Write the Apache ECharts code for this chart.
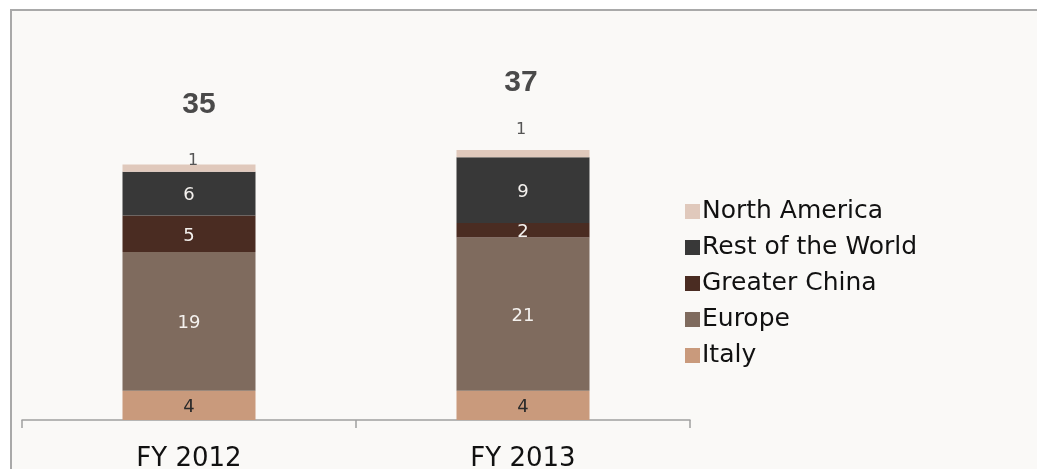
<!DOCTYPE html>
<html>
<head>
<meta charset="utf-8">
<script src="https://cdn.jsdelivr.net/npm/echarts@6/dist/echarts.min.js"></script>
<style>
  html, body { margin: 0; padding: 0; background: #ffffff; }
  #chart { width: 1037px; height: 469px; }
</style>
</head>
<body>
<div id="chart"></div>
<script>
// Revenue split by region, FY 2012 vs FY 2013
const categories = ['FY 2012', 'FY 2013'];
const italy = [4, 4];
const europe = [19, 21];
const greaterChina = [5, 2];
const restOfWorld = [6, 9];
const northAmerica = [1, 1];
const totals = [35, 37];

const legendOrder = ['North America', 'Rest of the World', 'Greater China', 'Europe', 'Italy'];

const chart = echarts.init(document.getElementById('chart'), null, { renderer: 'canvas' });

const segLabel = (color) => ({
  show: true,
  position: 'inside',
  offset: [0, 2],
  color: color,
  fontFamily: 'DejaVu Sans',
  fontSize: 18
});

function barSeries(name, values, color, labelColor) {
  return {
    name: name,
    type: 'bar',
    stack: 'total',
    barWidth: 133,
    data: values,
    itemStyle: { color: color },
    label: segLabel(labelColor),
    emphasis: { disabled: true }
  };
}

// Small top segment: value shown above the bar
const naOffsets = [[4, 4], [-2, -12]];
const totalOffsets = [[10, -44], [-2, -52]];

chart.setOption({
  animation: false,
  backgroundColor: '#ffffff',
  graphic: [{
    type: 'rect',
    z: -10,
    shape: { x: 11, y: 10, width: 1100, height: 600 },
    style: { fill: '#faf9f7', stroke: '#a9a9a9', lineWidth: 2 }
  }],
  grid: { left: 22, right: 347, top: 128, bottom: 49, outerBoundsMode: 'none', containLabel: false },
  legend: {
    orient: 'vertical',
    left: 680,
    top: 194,
    data: legendOrder,
    icon: 'rect',
    itemWidth: 15,
    itemHeight: 15,
    itemGap: 11,
    textStyle: { fontFamily: 'DejaVu Sans', fontSize: 25, color: '#111', lineHeight: 25, padding: [0, 0, 0, -3] },
    selectedMode: false
  },
  xAxis: {
    type: 'category',
    data: categories,
    axisLine: { lineStyle: { color: '#a0a0a0', width: 1.5 } },
    axisTick: { show: true, length: 8, lineStyle: { color: '#a0a0a0', width: 1.5 }, inside: false },
    axisLabel: { fontFamily: 'DejaVu Sans', fontSize: 26, color: '#111', margin: 26 }
  },
  yAxis: {
    type: 'value',
    min: 0,
    max: 40,
    show: false,
    splitLine: { show: false }
  },
  series: [
    barSeries('Italy', italy, '#c99a7c', '#2a2a2a'),
    barSeries('Europe', europe, '#7f6b5e', '#f4f1ee'),
    barSeries('Greater China', greaterChina, '#4a2c22', '#f4f1ee'),
    barSeries('Rest of the World', restOfWorld, '#383838', '#f4f1ee'),
    {
      name: 'North America',
      type: 'bar',
      stack: 'total',
      barWidth: 133,
      itemStyle: { color: '#e0c9bc' },
      emphasis: { disabled: true },
      data: northAmerica.map((v, i) => ({
        value: v,
        label: {
          show: true,
          position: 'top',
          distance: 0,
          offset: naOffsets[i],
          color: '#555',
          fontFamily: 'DejaVu Sans',
          fontSize: 16
        }
      }))
    },
    {
      name: 'Total',
      type: 'scatter',
      symbolSize: 1,
      itemStyle: { color: 'rgba(0,0,0,0)' },
      emphasis: { disabled: true },
      z: 5,
      data: totals.map((v, i) => ({
        value: v,
        label: {
          show: true,
          position: 'top',
          distance: 0,
          offset: totalOffsets[i],
          color: '#4a4a4a',
          opacity: 1,
          fontFamily: 'Liberation Sans',
          fontWeight: 'bold',
          fontSize: 30
        }
      }))
    }
  ]
});
</script>
</body>
</html>
